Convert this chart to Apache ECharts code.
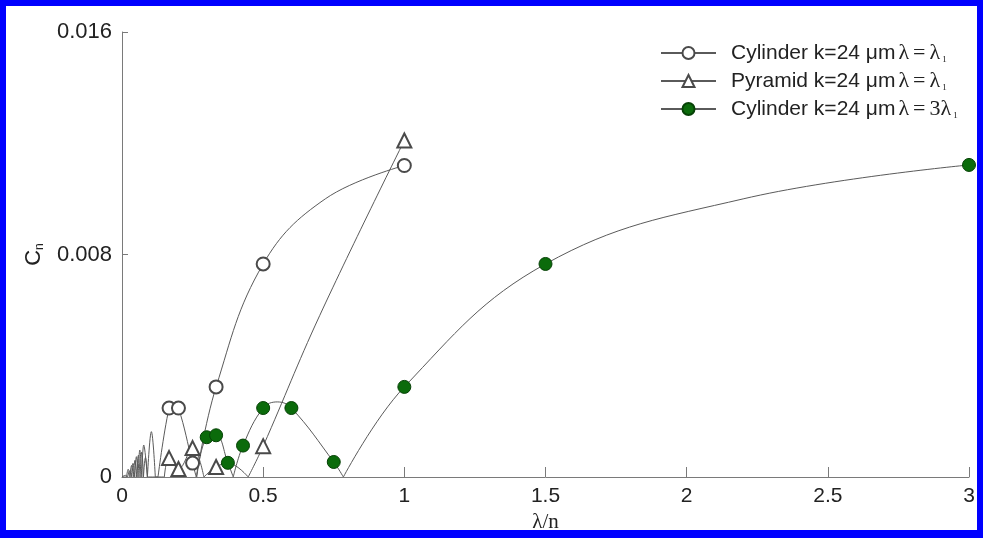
<!DOCTYPE html>
<html><head><meta charset="utf-8">
<script src="https://cdn.jsdelivr.net/npm/echarts@6/dist/echarts.min.js"></script>
<style>
html,body{margin:0;padding:0;background:#fff;}
#wrap{position:relative;width:983px;height:538px;overflow:hidden;}
#chart{position:absolute;left:0;top:0;width:983px;height:538px;}
#frame{position:absolute;left:0;top:0;width:983px;height:538px;box-sizing:border-box;border:6px solid #0000ff;border-bottom-width:8px;pointer-events:none;}
</style></head>
<body><div id="wrap"><div id="chart"></div><div id="frame"></div></div>
<script>
// ---- data ----
const seriesNames = ['Cylinder k=24 μm λ=λ1', 'Pyramid k=24 μm λ=λ1', 'Cylinder k=24 μm λ=3λ1'];
const xTickValues = [0, 0.5, 1, 1.5, 2, 2.5, 3];
const yTickValues = [0, 0.008, 0.016];

// measured points (shown with markers)
const cylMarkers = [[0.1667,0.00248],[0.2,0.00248],[0.25,0.0005],[0.3333,0.00324],[0.5,0.00766],[1,0.0112]];
const pyrMarkers = [[0.1667,0.00068],[0.2,0.00029],[0.25,0.00104],[0.3333,0.00036],[0.5,0.00111],[1,0.0121]];
const grnMarkers = [[0.3,0.00143],[0.3333,0.0015],[0.375,0.00051],[0.4286,0.00113],[0.5,0.00248],[0.6,0.00248],[0.75,0.00054],[1,0.00324],[1.5,0.00766],[3,0.01122]];

// extra points (no markers); zeros are cusps
const cylPath = [[0,0],[0.012,0.00006],[0.02,0],[0.027,0.00022],[0.033,0],[0.039,0.00049],[0.045,0],[0.051,0.00073],[0.057,0],[0.063,0.00097],[0.07,0],[0.077,0.00115],[0.09,0],[0.104,0.00163],[0.118,0],[0.1275,0],[0.183,0.0026],[0.263,0],[0.72,0.0100]];
const pyrPath = [[0,0],[0.016,0],[0.022,0.00028],[0.028,0],[0.034,0.00042],[0.04,0],[0.046,0.0006],[0.052,0],[0.058,0.00078],[0.064,0],[0.07,0.0009],[0.076,0],[0.083,0.0007],[0.09,0],[0.15,0],[0.29,0],[0.375,0.0005],[0.447,0],[0.7,0.0058]];
const grnPath = [[0.265,0],[0.394,0],[0.55,0.0027],[0.784,0],[2.2,0.0100]];

// ---- build series data ----
function build(markers, path) {
  const pts = markers.map(p => ({x:p[0], y:p[1], m:true}))
    .concat(path.map(p => ({x:p[0], y:p[1], m:false})))
    .sort((a,b) => a.x - b.x);
  const out = [];
  pts.forEach((p, i) => {
    const item = p.m ? {value:[p.x, p.y]} : {value:[p.x, p.y], symbol:'none'};
    out.push(item);
    if (!p.m && p.y === 0 && i > 0 && i < pts.length - 1) {
      out.push({value:[p.x, '-'], symbol:'none'});
      out.push({value:[p.x, p.y], symbol:'none'});
    }
  });
  return out;
}

const chart = echarts.init(document.getElementById('chart'), null, {renderer:'canvas'});
const lineColor = '#5a5a5a';
const axisColor = '#7a7a7a';
const sans = '"Liberation Sans", Arial, sans-serif';
const serif = '"Liberation Serif", "Times New Roman", serif';

chart.setOption({
  animation: false,
  backgroundColor: '#ffffff',
  grid: {left:122, right:14, top:32, bottom:61, containLabel:false},
  legend: {
    orient:'vertical', left:655, top:37,
    itemWidth:55, itemHeight:15, itemGap:6,
    data: seriesNames,
    formatter: function(name){
      const i = name.indexOf(' λ=');
      const head = name.slice(0, i);
      const tail = name.slice(i+3, name.length-2);
      return '{a|' + head + '}{g|λ}{g|=}{g|' + tail + 'λ}{s|1}';
    },
    textStyle: {
      rich: {
        a: {fontFamily:sans, fontSize:21, color:'#222', lineHeight:22, padding:[0,1,0,10]},
        g: {fontFamily:serif, fontSize:22, color:'#222', lineHeight:22, padding:[0,2,0,2]},
        s: {fontFamily:serif, fontSize:9, color:'#222', lineHeight:22, verticalAlign:'bottom', padding:[6,0,0,0]}
      }
    }
  },
  xAxis: {
    type:'value', min:0, max:3, interval:0.5,
    name:'λ/n', nameLocation:'middle', nameGap:35,
    nameTextStyle:{fontFamily:serif, fontSize:21, color:'#222'},
    axisLine:{show:true, lineStyle:{color:axisColor, width:1}},
    axisTick:{show:true, inside:true, length:10, lineStyle:{color:axisColor}},
    axisLabel:{fontFamily:sans, fontSize:21, color:'#222', margin:9},
    splitLine:{show:false}
  },
  yAxis: {
    type:'value', min:0, max:0.016, interval:0.008,
    name:'{c|C}{n|n}', nameLocation:'middle', nameGap:70, nameRotate:90,
    nameTextStyle:{
      rich:{
        c:{fontFamily:sans, fontSize:22, color:'#222', lineHeight:24},
        n:{fontFamily:sans, fontSize:12, color:'#222', lineHeight:24, verticalAlign:'bottom', padding:[8,0,0,0]}
      }
    },
    axisLine:{show:true, lineStyle:{color:axisColor, width:1}},
    axisTick:{show:true, inside:true, length:6, lineStyle:{color:axisColor}},
    axisLabel:{fontFamily:sans, fontSize:22, color:'#222', margin:10,
      formatter: v => (v === 0 ? '0' : v.toFixed(3))},
    splitLine:{show:false}
  },
  series: [
    {
      name: seriesNames[0], type:'line', data: build(cylMarkers, cylPath),
      smooth:0.4, connectNulls:false, showAllSymbol:true,
      symbol:'emptyCircle', symbolSize:13,
      lineStyle:{color:lineColor, width:1},
      itemStyle:{color:'#4a4a4a', borderColor:'#4a4a4a', borderWidth:1.2}
    },
    {
      name: seriesNames[1], type:'line', data: build(pyrMarkers, pyrPath),
      smooth:0.4, connectNulls:false, showAllSymbol:true,
      symbol:'emptyTriangle', symbolSize:14,
      lineStyle:{color:lineColor, width:1},
      itemStyle:{color:'#4a4a4a', borderColor:'#4a4a4a', borderWidth:1.2}
    },
    {
      name: seriesNames[2], type:'line', data: build(grnMarkers, grnPath),
      smooth:0.4, connectNulls:false, showAllSymbol:true,
      symbol:'circle', symbolSize:13,
      lineStyle:{color:lineColor, width:1},
      itemStyle:{color:'#0b6b0b', borderColor:'#064206', borderWidth:1}
    }
  ]
});
</script>
</body></html>
